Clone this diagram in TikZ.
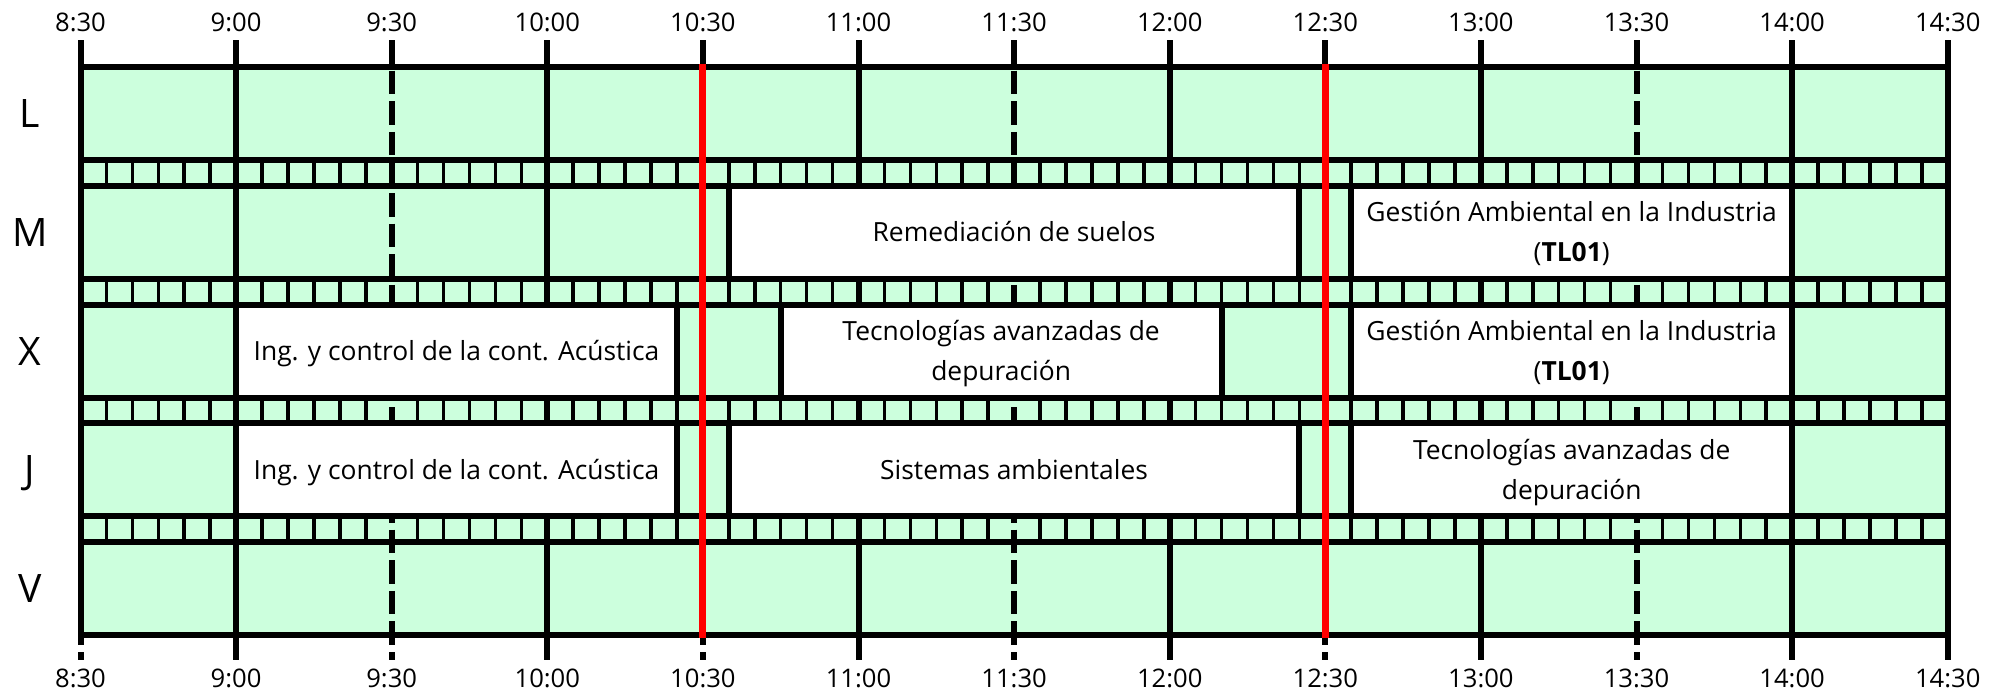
\documentclass[tikz,border=0pt]{standalone}
\usepackage{fontspec}
\setmainfont{Open Sans}
\definecolor{mint}{RGB}{204,255,221}
\definecolor{redline}{RGB}{255,0,0}
\begin{document}
\begin{tikzpicture}[x=0.5pt,y=-0.5pt,
  declare function={tx(\m)=80.5+\m*5.186667;},
  gridline/.style={line width=3pt},
  halfline/.style={line width=3pt,dash pattern=on 11.8pt off 3.5pt},
  minortick/.style={line width=1.75pt},
  border/.style={line width=3pt},
  slot/.style={fill=white},
  slotedge/.style={line width=3pt},
  nowline/.style={line width=3.5pt,draw=redline},
  coursetext/.style={anchor=base,align=center,font=\fontsize{13.2}{20}\selectfont,inner sep=0pt},
  timelabel/.style={anchor=base,font=\fontsize{12.8}{15}\selectfont,inner sep=0pt},
  daylabel/.style={anchor=base,font=\fontsize{19.6}{22}\selectfont,inner sep=0pt}
]
\useasboundingbox (0,0) rectangle (2003,696);
% background of the grid
\fill[mint] (80.5,67) rectangle (1947.7,635);
% five-minute ticks in the separator strips
\foreach \a/\b in {160/185.75,278.75/304.5,397.5/423.25,516.25/542}{
  \foreach \k in {1,...,71}{
    \pgfmathtruncatemacro{\r}{mod(\k,6)}
    \ifnum\r=0\relax\else
      \draw[minortick] ({tx(5*\k)},\a) -- ({tx(5*\k)},\b);
    \fi
  }
}
% hour lines (solid) and half-hour lines (dashed)
\foreach \i in {1,3,...,11}
  \draw[gridline] ({tx(30*\i)},40) -- ({tx(30*\i)},660);
\draw[gridline] ({tx(360)},40) -- ({tx(360)},660);
\foreach \i in {0,2,...,10}
  \draw[halfline] ({tx(30*\i)},40) -- ({tx(30*\i)},660);
% course slots (white)
\foreach \s/\e/\t in {125/235/185.75,245/330/185.75,
                      30/115/304.5,135/220/304.5,245/330/304.5,
                      30/115/423.25,125/235/423.25,245/330/423.25}
  \fill[slot] ({tx(\s)},\t) rectangle ({tx(\e)},\t+93);
% frame and row borders
\draw[border] (80.5,67) rectangle (1947.7,635);
\foreach \y in {160,185.75,278.75,304.5,397.5,423.25,516.25,542}
  \draw[border] (80.5,\y) -- (1947.7,\y);
% slot edges
\foreach \s/\e/\t in {125/235/185.75,245/330/185.75,
                      30/115/304.5,135/220/304.5,245/330/304.5,
                      30/115/423.25,125/235/423.25,245/330/423.25}{
  \draw[slotedge] ({tx(\s)},\t) -- ({tx(\s)},\t+93);
  \draw[slotedge] ({tx(\e)},\t) -- ({tx(\e)},\t+93);
}
% red lines
\draw[nowline] ({tx(120)},64) -- ({tx(120)},638);
\draw[nowline] ({tx(240)},64) -- ({tx(240)},638);
% time labels
\foreach \i/\lab in {0/8:30,1/9:00,2/9:30,3/10:00,4/10:30,5/11:00,6/11:30,
                     7/12:00,8/12:30,9/13:00,10/13:30,11/14:00,12/14:30}{
  \node[timelabel] (top\i) at ({tx(30*\i)},31.7) {\lab};
  \node[timelabel] (bot\i) at ({tx(30*\i)},687) {\lab};
}
% day labels
\node[daylabel] (dayL) at (30,127.5) {L};
\node[daylabel] (dayM) at (30,246.25) {M};
\node[daylabel] (dayX) at (30,365) {X};
\node[daylabel] (dayJ) at (30,483.75) {J};
\node[daylabel] (dayV) at (30,602.5) {V};
% course texts (base anchor = baseline of the last line)
\node[coursetext] (remM) at ({(tx(125)+tx(235))/2},241.65) {Remediación de suelos};
\node[coursetext] (gesM) at ({(tx(245)+tx(330))/2},261.65) {Gestión Ambiental en la Industria\\(\textbf{TL01})};
\node[coursetext] (ingX) at ({(tx(30)+tx(115))/2},360.4) {Ing. y control de la cont. Acústica};
\node[coursetext] (tecX) at ({(tx(135)+tx(220))/2},380.4) {Tecnologías avanzadas de\\depuración};
\node[coursetext] (gesX) at ({(tx(245)+tx(330))/2},380.4) {Gestión Ambiental en la Industria\\(\textbf{TL01})};
\node[coursetext] (ingJ) at ({(tx(30)+tx(115))/2},479.15) {Ing. y control de la cont. Acústica};
\node[coursetext] (sisJ) at ({(tx(125)+tx(235))/2},479.15) {Sistemas ambientales};
\node[coursetext] (tecJ) at ({(tx(245)+tx(330))/2},499.15) {Tecnologías avanzadas de\\depuración};
\end{tikzpicture}
\end{document}
